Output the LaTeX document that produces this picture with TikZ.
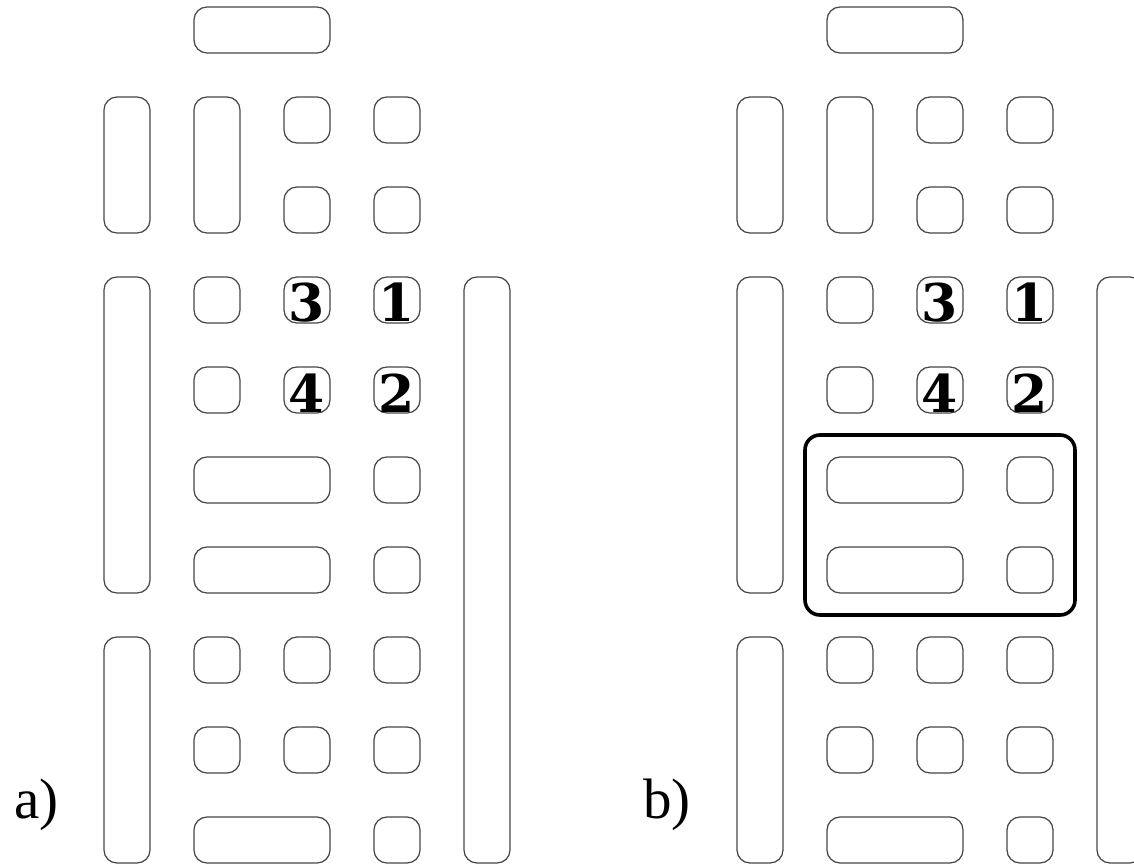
\documentclass[tikz,border=0pt]{standalone}
\usepackage{fontspec}
\newfontfamily\labfont{Liberation Serif}
\newfontfamily\digfont{DejaVu Serif}
\usetikzlibrary{fit}
\newcommand\blk[6]{% #1 name, #2 xoff, #3 col, #4 row, #5 ncols, #6 nrows
  \pgfmathsetmacro\blkW{46+90*(#5-1)}%
  \pgfmathsetmacro\blkH{46+90*(#6-1)}%
  \pgfmathsetmacro\blkX{#2+104+90*(#3-1)+\blkW/2}%
  \pgfmathsetmacro\blkY{7+90*(#4-1)+\blkH/2}%
  \node[cellbox, minimum width=\blkW pt, minimum height=\blkH pt] (#1) at (\blkX,\blkY) {};%
}
\newcommand\dig[2]{% #1 box name, #2 digit
  \node[digit] (#1-n) at ([yshift=1pt]#1.south) {#2};%
}
\tikzset{
  cellbox/.style={draw=black!72, line width=1.25pt, rounded corners=13pt, inner sep=0pt, outer sep=0pt, fill=none},
  digit/.style={anchor=base, inner sep=0pt, font=\digfont\fontsize{52}{54}\selectfont\bfseries},
  frame/.style={draw=black, line width=3.6pt, rounded corners=15pt},
  lab/.style={anchor=base west, inner sep=0pt, font=\labfont\fontsize{57}{60}\selectfont}
}
\begin{document}
\begin{tikzpicture}[x=1pt, y=-1pt]
\useasboundingbox (0,0) rectangle (1134,866);
\clip (0,0) rectangle (1134,866);
\foreach \p/\o in {a/0, b/633}{
  \blk{\p-top}{\o}{2}{1}{2}{1}
  \blk{\p-v1}{\o}{1}{2}{1}{2}
  \blk{\p-v2}{\o}{2}{2}{1}{2}
  \blk{\p-s32}{\o}{3}{2}{1}{1}
  \blk{\p-s42}{\o}{4}{2}{1}{1}
  \blk{\p-s33}{\o}{3}{3}{1}{1}
  \blk{\p-s43}{\o}{4}{3}{1}{1}
  \blk{\p-v3}{\o}{1}{4}{1}{4}
  \blk{\p-s24}{\o}{2}{4}{1}{1}
  \blk{\p-s25}{\o}{2}{5}{1}{1}
  \blk{\p-d3}{\o}{3}{4}{1}{1}
  \blk{\p-d1}{\o}{4}{4}{1}{1}
  \blk{\p-d4}{\o}{3}{5}{1}{1}
  \blk{\p-d2}{\o}{4}{5}{1}{1}
  \dig{\p-d3}{3}
  \dig{\p-d1}{1}
  \dig{\p-d4}{4}
  \dig{\p-d2}{2}
  \blk{\p-v5}{\o}{5}{4}{1}{7}
  \blk{\p-h6}{\o}{2}{6}{2}{1}
  \blk{\p-s46}{\o}{4}{6}{1}{1}
  \blk{\p-h7}{\o}{2}{7}{2}{1}
  \blk{\p-s47}{\o}{4}{7}{1}{1}
  \blk{\p-v8}{\o}{1}{8}{1}{3}
  \blk{\p-s28}{\o}{2}{8}{1}{1}
  \blk{\p-s38}{\o}{3}{8}{1}{1}
  \blk{\p-s48}{\o}{4}{8}{1}{1}
  \blk{\p-s29}{\o}{2}{9}{1}{1}
  \blk{\p-s39}{\o}{3}{9}{1}{1}
  \blk{\p-s49}{\o}{4}{9}{1}{1}
  \blk{\p-h10}{\o}{2}{10}{2}{1}
  \blk{\p-s410}{\o}{4}{10}{1}{1}
}
\node[frame, fit=(b-h6)(b-s47), inner sep=22pt] (selframe) {};
\node[lab] (la) at (14,818) {a)};
\node[lab] (lb) at (643,818) {b)};
\end{tikzpicture}
\end{document}
